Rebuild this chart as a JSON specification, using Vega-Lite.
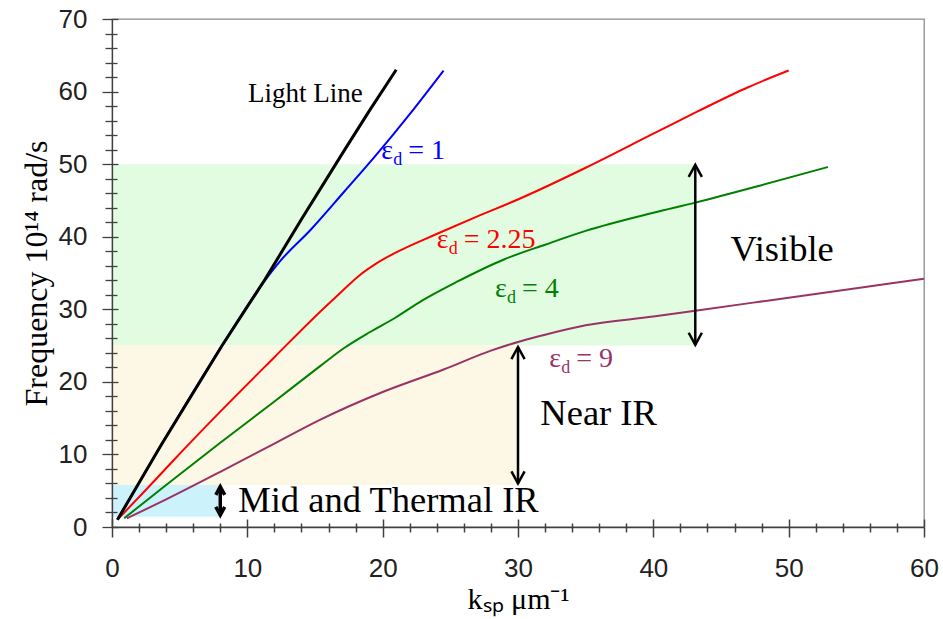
{
  "$schema": "https://vega.github.io/schema/vega-lite/v6.json",
  "width": 812,
  "height": 508,
  "autosize": {"type": "none"},
  "padding": {"left": 112, "top": 19, "right": 19, "bottom": 92},
  "background": "white",
  "config": {"view": {"stroke": "#8c8c8c", "strokeWidth": 1.3}},
  "datasets": {
    "curves": [
      {"s": "Light", "k": 0.4, "f": 1.0}, {"s": "Light", "k": 3.6, "f": 11.2}, {"s": "Light", "k": 8.1, "f": 24.9}, {"s": "Light", "k": 11.3, "f": 34.1}, {"s": "Light", "k": 14.0, "f": 42.4}, {"s": "Light", "k": 17.2, "f": 52.0}, {"s": "Light", "k": 19.0, "f": 57.3}, {"s": "Light", "k": 21.0, "f": 63.0},
      {"s": "1", "k": 0.4, "f": 1.0}, {"s": "1", "k": 3.6, "f": 11.2}, {"s": "1", "k": 8.1, "f": 24.9}, {"s": "1", "k": 11.0, "f": 33.2}, {"s": "1", "k": 12.5, "f": 36.8}, {"s": "1", "k": 14.7, "f": 41.0}, {"s": "1", "k": 17.2, "f": 46.3}, {"s": "1", "k": 19.4, "f": 51.0}, {"s": "1", "k": 22.0, "f": 56.9}, {"s": "1", "k": 24.5, "f": 62.9},
      {"s": "2.25", "k": 0.5, "f": 1.2}, {"s": "2.25", "k": 2.6, "f": 5.3}, {"s": "2.25", "k": 4.5, "f": 9.1}, {"s": "2.25", "k": 8.0, "f": 15.9}, {"s": "2.25", "k": 12.0, "f": 23.4}, {"s": "2.25", "k": 15.4, "f": 29.7}, {"s": "2.25", "k": 17.0, "f": 32.5}, {"s": "2.25", "k": 18.3, "f": 34.7}, {"s": "2.25", "k": 19.6, "f": 36.4}, {"s": "2.25", "k": 21.5, "f": 38.3}, {"s": "2.25", "k": 23.9, "f": 40.3}, {"s": "2.25", "k": 27.0, "f": 42.8}, {"s": "2.25", "k": 30.2, "f": 45.3}, {"s": "2.25", "k": 35.0, "f": 49.5}, {"s": "2.25", "k": 40.0, "f": 54.2}, {"s": "2.25", "k": 43.2, "f": 57.2}, {"s": "2.25", "k": 47.0, "f": 60.6}, {"s": "2.25", "k": 50.0, "f": 62.9},
      {"s": "4", "k": 0.9, "f": 1.2}, {"s": "4", "k": 4.0, "f": 5.8}, {"s": "4", "k": 8.0, "f": 11.6}, {"s": "4", "k": 12.0, "f": 17.3}, {"s": "4", "k": 15.4, "f": 22.2}, {"s": "4", "k": 17.1, "f": 24.6}, {"s": "4", "k": 19.0, "f": 26.8}, {"s": "4", "k": 20.9, "f": 28.8}, {"s": "4", "k": 23.0, "f": 31.3}, {"s": "4", "k": 25.5, "f": 33.8}, {"s": "4", "k": 29.0, "f": 36.9}, {"s": "4", "k": 32.0, "f": 38.9}, {"s": "4", "k": 35.0, "f": 40.8}, {"s": "4", "k": 40.0, "f": 43.3}, {"s": "4", "k": 43.1, "f": 44.7}, {"s": "4", "k": 48.0, "f": 47.1}, {"s": "4", "k": 52.9, "f": 49.6},
      {"s": "9", "k": 1.1, "f": 1.2}, {"s": "9", "k": 4.0, "f": 3.8}, {"s": "9", "k": 8.0, "f": 7.6}, {"s": "9", "k": 11.5, "f": 11.0}, {"s": "9", "k": 15.4, "f": 14.8}, {"s": "9", "k": 20.0, "f": 18.6}, {"s": "9", "k": 24.5, "f": 21.7}, {"s": "9", "k": 28.0, "f": 24.3}, {"s": "9", "k": 30.2, "f": 25.6}, {"s": "9", "k": 32.0, "f": 26.5}, {"s": "9", "k": 35.0, "f": 27.8}, {"s": "9", "k": 40.0, "f": 29.0}, {"s": "9", "k": 43.1, "f": 29.8}, {"s": "9", "k": 50.0, "f": 31.6}, {"s": "9", "k": 55.0, "f": 32.9}, {"s": "9", "k": 60.0, "f": 34.2}
    ],
    "regions": [
      {"r": "vis", "k": 0, "k2": 43.1, "f": 25, "f2": 50},
      {"r": "nir", "k": 0, "k2": 30, "f": 5.8, "f2": 25},
      {"r": "mir", "k": 0, "k2": 8, "f": 1.4, "f2": 5.8}
    ],
    "arrows": [
      {"a": "vis", "k": 43.1, "f": 25.1, "f2": 49.9},
      {"a": "nir", "k": 30, "f": 6.0, "f2": 24.8},
      {"a": "mir", "k": 8, "f": 1.65, "f2": 5.55}
    ],
    "heads": [
      {"a": "vis", "k": 43.1, "f": 49.9, "dir": "up"}, {"a": "vis", "k": 43.1, "f": 25.1, "dir": "down"},
      {"a": "nir", "k": 30, "f": 24.8, "dir": "up"}, {"a": "nir", "k": 30, "f": 6.0, "dir": "down"},
      {"a": "mir", "k": 8, "f": 5.55, "dir": "up"}, {"a": "mir", "k": 8, "f": 1.65, "dir": "down"}
    ],
    "labels": [
      {"t": "Light Line", "k": 10.05, "f": 58.6},
      {"t": "Visible", "k": 45.7, "f": 36.7},
      {"t": "Near IR", "k": 31.65, "f": 14.05},
      {"t": "Mid and Thermal IR", "k": 9.33, "f": 2.1}
    ],
    "eps": [
      {"s": "1", "k": 19.9, "f": 50.7, "rest": "= 1"},
      {"s": "2.25", "k": 24.0, "f": 38.4, "rest": "= 2.25"},
      {"s": "4", "k": 28.3, "f": 31.65, "rest": "= 4"},
      {"s": "9", "k": 32.3, "f": 22.1, "rest": "= 9"}
    ]
  },
  "resolve": {"axis": {"x": "independent", "y": "independent"}},
  "layer": [
    {
      "data": {"name": "regions"},
      "mark": {"type": "rect"},
      "encoding": {
        "x": {"field": "k", "type": "quantitative", "scale": {"domain": [0, 60], "nice": false},
          "axis": {"orient": "bottom", "values": [0, 10, 20, 30, 40, 50, 60], "ticks": true, "tickSize": 10,
            "labelPadding": 18, "labelFont": "Liberation Sans", "labelFontSize": 26, "labelColor": "#222222",
            "labelOverlap": false, "labelFlush": false,
            "domainColor": "#404040", "tickColor": "#404040", "tickWidth": 1.5, "domainWidth": 1.3, "grid": false,
            "title": "kₛₚ μm⁻¹", "titleFont": "Liberation Serif", "titleFontSize": 30, "titleFontWeight": "normal", "titleColor": "#000000", "titlePadding": 3, "zindex": 1}},
        "x2": {"field": "k2"},
        "y": {"field": "f", "type": "quantitative", "scale": {"domain": [0, 70], "nice": false},
          "axis": {"orient": "left", "values": [0, 10, 20, 30, 40, 50, 60, 70], "tickSize": 10,
            "labelPadding": 15, "labelFont": "Liberation Sans", "labelFontSize": 26, "labelColor": "#222222",
            "labelOverlap": false, "labelFlush": false,
            "domainColor": "#404040", "tickColor": "#404040", "tickWidth": 1.3, "domainWidth": 1.3, "grid": false,
            "title": "Frequency 10¹⁴ rad/s", "titleFont": "Liberation Serif", "titleFontSize": 32, "titleFontWeight": "normal", "titleColor": "#000000", "titlePadding": 5, "zindex": 1}},
        "y2": {"field": "f2"},
        "fill": {"field": "r", "type": "nominal", "scale": {"domain": ["vis", "nir", "mir"], "range": ["#e1fce1", "#fdf7e5", "#ccf2fc"]}, "legend": null}
      }
    },
    {
      "data": {"name": "curves"},
      "transform": [{"filter": "datum.s !== 'Light'"}],
      "mark": {"type": "line", "strokeWidth": 2, "interpolate": "monotone"},
      "encoding": {
        "x": {"field": "k", "type": "quantitative", "scale": {"domain": [0, 60], "nice": false},
          "axis": {"orient": "bottom", "values": [2,4,6,8,12,14,16,18,22,24,26,28,32,34,36,38,42,44,46,48,52,54,56,58],
            "labels": false, "domain": false, "title": null, "grid": false, "ticks": true, "tickSize": 5,
            "tickColor": "#404040", "tickWidth": 1.5, "zindex": 1}},
        "y": {"field": "f", "type": "quantitative", "scale": {"domain": [0, 70], "nice": false},
          "axis": {"orient": "left", "values": [2,4,6,8,12,14,16,18,22,24,26,28,32,34,36,38,42,44,46,48,52,54,56,58,62,64,66,68],
            "labels": false, "domain": false, "title": null, "grid": false, "tickSize": 7,
            "tickColor": "#404040", "tickWidth": 1.3, "zindex": 1}},
        "color": {"field": "s", "type": "nominal", "scale": {"domain": ["Light", "1", "2.25", "4", "9"], "range": ["#000000", "#0000ff", "#ff0000", "#008000", "#993366"]}, "legend": null}
      }
    },
    {
      "data": {"name": "curves"},
      "transform": [{"filter": "datum.s === 'Light'"}],
      "mark": {"type": "line", "strokeWidth": 3},
      "encoding": {
        "x": {"field": "k", "type": "quantitative", "scale": {"domain": [0, 60], "nice": false},
          "axis": {"orient": "bottom", "values": [0, 10, 20, 30, 40, 50, 60], "offset": -8, "tickSize": 8, "ticks": true,
            "labels": false, "domain": false, "title": null, "grid": false,
            "tickColor": "#404040", "tickWidth": 1.5, "zindex": 1}},
        "y": {"field": "f", "type": "quantitative", "scale": {"domain": [0, 70], "nice": false},
          "axis": {"orient": "left", "values": [0, 10, 20, 30, 40, 50, 60, 70], "offset": -6, "tickSize": 6,
            "labels": false, "domain": false, "title": null, "grid": false,
            "tickColor": "#404040", "tickWidth": 1.3, "zindex": 1}},
        "color": {"field": "s", "type": "nominal", "legend": null}
      }
    },
    {
      "data": {"name": "arrows"},
      "transform": [{"filter": "datum.a !== 'mir'"}],
      "mark": {"type": "rule", "strokeWidth": 2.5, "color": "#000000"},
      "encoding": {
        "x": {"field": "k", "type": "quantitative", "scale": {"domain": [0, 60], "nice": false},
          "axis": {"orient": "bottom", "values": [2,4,6,8,12,14,16,18,22,24,26,28,32,34,36,38,42,44,46,48,52,54,56,58], "offset": -4, "tickSize": 4, "ticks": true,
            "labels": false, "domain": false, "title": null, "grid": false,
            "tickColor": "#404040", "tickWidth": 1.5, "zindex": 1}},
        "y": {"field": "f", "type": "quantitative", "scale": {"domain": [0, 70], "nice": false},
          "axis": {"orient": "left", "values": [2,4,6,8,12,14,16,18,22,24,26,28,32,34,36,38,42,44,46,48,52,54,56,58,62,64,66,68], "offset": -5, "tickSize": 5,
            "labels": false, "domain": false, "title": null, "grid": false,
            "tickColor": "#404040", "tickWidth": 1.3, "zindex": 1}},
        "y2": {"field": "f2"}
      }
    },
    {
      "data": {"name": "arrows"},
      "transform": [{"filter": "datum.a === 'mir'"}],
      "mark": {"type": "rule", "strokeWidth": 3.5, "color": "#000000"},
      "encoding": {
        "x": {"field": "k", "type": "quantitative", "scale": {"domain": [0, 60], "nice": false}, "axis": null},
        "y": {"field": "f", "type": "quantitative", "scale": {"domain": [0, 70], "nice": false}, "axis": null},
        "y2": {"field": "f2"}
      }
    },
    {
      "data": {"name": "heads"},
      "transform": [{"filter": "datum.a !== 'mir'"}],
      "mark": {"type": "point", "filled": false, "color": "#000000", "strokeWidth": 2.5, "size": 484, "opacity": 1},
      "encoding": {
        "x": {"field": "k", "type": "quantitative", "scale": {"domain": [0, 60], "nice": false}, "axis": null},
        "y": {"field": "f", "type": "quantitative", "scale": {"domain": [0, 70], "nice": false}, "axis": null},
        "shape": {"field": "dir", "type": "nominal", "scale": {"domain": ["up", "down"], "range": ["M-0.6,1.1L0,0L0.6,1.1", "M-0.6,-1.1L0,0L0.6,-1.1"]}, "legend": null}
      }
    },
    {
      "data": {"name": "heads"},
      "transform": [{"filter": "datum.a === 'mir'"}],
      "mark": {"type": "point", "filled": false, "color": "#000000", "strokeWidth": 3.5, "size": 220, "opacity": 1},
      "encoding": {
        "x": {"field": "k", "type": "quantitative", "scale": {"domain": [0, 60], "nice": false}, "axis": null},
        "y": {"field": "f", "type": "quantitative", "scale": {"domain": [0, 70], "nice": false}, "axis": null},
        "shape": {"field": "dir", "type": "nominal", "legend": null}
      }
    },
    {
      "data": {"name": "labels"},
      "transform": [{"filter": "datum.t === 'Light Line'"}],
      "mark": {"type": "text", "align": "left", "baseline": "alphabetic", "font": "Liberation Serif", "fontSize": 27, "color": "#000000"},
      "encoding": {
        "x": {"field": "k", "type": "quantitative", "scale": {"domain": [0, 60], "nice": false}, "axis": null},
        "y": {"field": "f", "type": "quantitative", "scale": {"domain": [0, 70], "nice": false}, "axis": null},
        "text": {"field": "t"}
      }
    },
    {
      "data": {"name": "labels"},
      "transform": [{"filter": "datum.t !== 'Light Line'"}],
      "mark": {"type": "text", "align": "left", "baseline": "alphabetic", "font": "Liberation Serif", "fontSize": 36.5, "color": "#000000"},
      "encoding": {
        "x": {"field": "k", "type": "quantitative", "scale": {"domain": [0, 60], "nice": false}, "axis": null},
        "y": {"field": "f", "type": "quantitative", "scale": {"domain": [0, 70], "nice": false}, "axis": null},
        "text": {"field": "t"}
      }
    },
    {
      "data": {"name": "eps"},
      "mark": {"type": "text", "align": "left", "baseline": "alphabetic", "font": "Liberation Serif", "fontSize": 28},
      "encoding": {
        "x": {"field": "k", "type": "quantitative", "scale": {"domain": [0, 60], "nice": false}, "axis": null},
        "y": {"field": "f", "type": "quantitative", "scale": {"domain": [0, 70], "nice": false}, "axis": null},
        "text": {"value": "ε"},
        "color": {"field": "s", "type": "nominal", "legend": null}
      }
    },
    {
      "data": {"name": "eps"},
      "mark": {"type": "text", "align": "left", "baseline": "alphabetic", "font": "Liberation Serif", "fontSize": 18, "dx": 12, "dy": 6},
      "encoding": {
        "x": {"field": "k", "type": "quantitative", "scale": {"domain": [0, 60], "nice": false}, "axis": null},
        "y": {"field": "f", "type": "quantitative", "scale": {"domain": [0, 70], "nice": false}, "axis": null},
        "text": {"value": "d"},
        "color": {"field": "s", "type": "nominal", "legend": null}
      }
    },
    {
      "data": {"name": "eps"},
      "mark": {"type": "text", "align": "left", "baseline": "alphabetic", "font": "Liberation Serif", "fontSize": 28, "dx": 27},
      "encoding": {
        "x": {"field": "k", "type": "quantitative", "scale": {"domain": [0, 60], "nice": false}, "axis": null},
        "y": {"field": "f", "type": "quantitative", "scale": {"domain": [0, 70], "nice": false}, "axis": null},
        "text": {"field": "rest"},
        "color": {"field": "s", "type": "nominal", "legend": null}
      }
    }
  ]
}
